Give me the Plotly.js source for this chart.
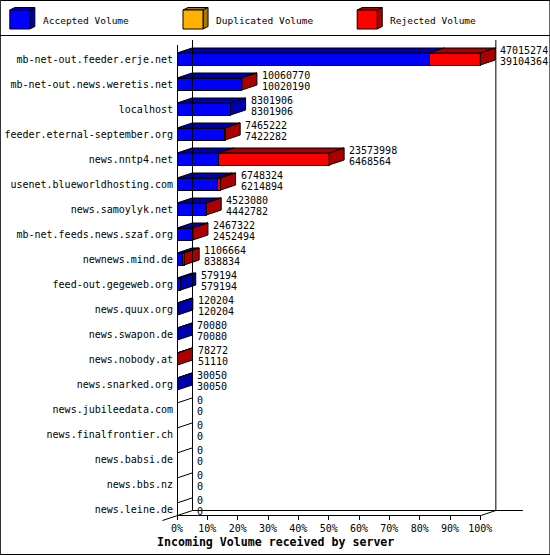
<!DOCTYPE html>
<html>
<head>
<meta charset="utf-8">
<script src="https://cdn.plot.ly/plotly-3.0.1.min.js"></script>
<style>html,body{margin:0;padding:0;background:#fff}</style>
</head>
<body>
<div id="plot" style="width:550px;height:555px"></div>
<script>
// incoming volume per server (bytes)
const servers = [
  'mb-net-out.feeder.erje.net', 'mb-net-out.news.weretis.net', 'localhost',
  'feeder.eternal-september.org', 'news.nntp4.net', 'usenet.blueworldhosting.com',
  'news.samoylyk.net', 'mb-net.feeds.news.szaf.org', 'newnews.mind.de',
  'feed-out.gegeweb.org', 'news.quux.org', 'news.swapon.de', 'news.nobody.at',
  'news.snarked.org', 'news.jubileedata.com', 'news.finalfrontier.ch',
  'news.babsi.de', 'news.bbs.nz', 'news.leine.de'
]
const offered = [47015274, 10060770, 8301906, 7465222, 23573998, 6748324, 4523080,
  2467322, 1106664, 579194, 120204, 70080, 78272, 30050, 0, 0, 0, 0, 0]
const accepted = [39104364, 10020190, 8301906, 7422282, 6468564, 6214894, 4442782,
  2452494, 838834, 579194, 120204, 70080, 51110, 30050, 0, 0, 0, 0, 0]
const duplicated = [0, 0, 0, 0, 0, 0, 0, 0, 0, 0, 0, 0, 0, 0, 0, 0, 0, 0, 0]
const seriesNames = ['Accepted Volume', 'Duplicated Volume', 'Rejected Volume']
const pctTicks = [0, 10, 20, 30, 40, 50, 60, 70, 80, 90, 100]

const fronts = ['#0000ff', '#ffb000', '#ff0000']
const darks = ['#0000aa', '#aa7800', '#aa0000']
const FONT = 'DejaVu Sans Mono'

const rejected = offered.map((o, i) => o - accepted[i] - duplicated[i])
const maxVol = Math.max(...offered)
const toPct = v => v / maxVol * 100
const series = [accepted, duplicated, rejected].map(a => a.map(toPct))
const idx = servers.map((_, i) => i)

// layout in pixels
const WIDTH = 550, HEIGHT = 555
const L = 177, T = 40, B = 40, RM = 9.4
const W = WIDTH - L - RM, H = HEIGHT - T - B
const xMax = 120
const k = W / xMax            // px per percent
const ROW = 25                // px per row
const yTop = -(59 - T) / ROW
const yBot = yTop + H / ROW
const DXpx = 15, DYpx = 5
const DX = DXpx / k, DY = DYpx / ROW
const HALF = 6 / ROW

const px2x = p => (p - L) / W
const py2y = p => (HEIGHT - B - p) / H
const xpx = v => L + v * k

const shapes = []
const annotations = []

// 3d top and side faces of each bar
idx.forEach(i => {
  const yt = i - HALF, yb = i + HALF
  let x0 = 0, last = -1
  series.forEach((s, j) => {
    const x1 = x0 + s[i]
    if (s[i] > 0) {
      shapes.push({
        type: 'path', xref: 'x', yref: 'y', layer: 'above',
        path: `M${x0},${yt} L${x0 + DX},${yt - DY} L${x1 + DX},${yt - DY} L${x1},${yt} Z`,
        fillcolor: darks[j], line: {color: '#000', width: 1}
      })
      last = j
    }
    x0 = x1
  })
  if (last >= 0) {
    shapes.push({
      type: 'path', xref: 'x', yref: 'y', layer: 'above',
      path: `M${x0},${yt} L${x0 + DX},${yt - DY} L${x0 + DX},${yb - DY} L${x0},${yb} Z`,
      fillcolor: darks[last], line: {color: '#000', width: 1}
    })
  } else {
    shapes.push({
      type: 'line', xref: 'x', yref: 'y', layer: 'above',
      x0: 0, y0: yt, x1: DX, y1: yt - DY, line: {color: '#000', width: 1}
    })
  }
  // value labels: offered over accepted
  const xe = toPct(offered[i])
  ;[[offered[i], 9], [accepted[i], -2]].forEach(([v, sh]) => {
    annotations.push({
      xref: 'x', yref: 'y', x: xe, y: i, xshift: 18, yshift: sh,
      xanchor: 'left', yanchor: 'middle', showarrow: false,
      text: String(v), font: {family: FONT, size: 10, color: '#000'}
    })
  })
})

// box frame
const line = (ax, ay, bx, by) => shapes.push({
  type: 'line', xref: 'paper', yref: 'paper', layer: 'above',
  x0: px2x(ax), y0: py2y(ay), x1: px2x(bx), y1: py2y(by),
  line: {color: '#000', width: 1}
})
const fx0 = xpx(0) + 0.5, fx100 = xpx(100) + 0.5
const fBot = T + H + 0.5, bBot = fBot - DYpx
line(fx0, T + DYpx, fx0, fBot)
line(fx0 + DXpx, T, fx0 + DXpx, bBot)
line(fx100 + DXpx, T, fx100 + DXpx, bBot)
line(fx0, fBot, fx100, fBot)
line(fx0 + DXpx, bBot, fx100 + DXpx + 27, bBot)
line(fx0 - DXpx, fBot + DYpx, fx0 + DXpx, bBot)
line(fx100, fBot, fx100 + DXpx, bBot)

// outer border and legend separator
shapes.push({
  type: 'rect', xref: 'paper', yref: 'paper', layer: 'above',
  x0: px2x(0.5), y0: py2y(0.5), x1: px2x(WIDTH - 0.5), y1: py2y(HEIGHT - 0.5),
  line: {color: '#000', width: 1}
})
line(0, 35.5, WIDTH, 35.5)

// legend cubes
const legX = [10, 183, 357]
seriesNames.forEach((name, j) => {
  const x = legX[j]
  const rect = (path, c) => shapes.push({
    type: 'path', xref: 'paper', yref: 'paper', layer: 'above',
    path, fillcolor: c, line: {color: '#000', width: 1}
  })
  const P = (a, b) => `${px2x(a)},${py2y(b)}`
  rect(`M${P(x, 10)} L${P(x + 5, 7.5)} L${P(x + 25, 7.5)} L${P(x + 20, 10)} Z`, darks[j])
  rect(`M${P(x + 20, 10)} L${P(x + 25, 7.5)} L${P(x + 25, 26.5)} L${P(x + 20, 29)} Z`, darks[j])
  rect(`M${P(x, 10)} L${P(x + 20, 10)} L${P(x + 20, 29)} L${P(x, 29)} Z`, fronts[j])
  annotations.push({
    xref: 'paper', yref: 'paper', x: px2x(x + 31), y: py2y(20),
    xanchor: 'left', yanchor: 'middle', showarrow: false,
    text: name, font: {family: FONT, size: 9.5, color: '#000'}
  })
})

// axis title
annotations.push({
  xref: 'paper', yref: 'paper', x: px2x(155), y: py2y(542),
  xanchor: 'left', yanchor: 'middle', showarrow: false,
  text: '<b>Incoming Volume received by server</b>',
  font: {family: FONT, size: 11.6, color: '#000'}
})

const traces = series.map((s, j) => ({
  type: 'bar', orientation: 'h', name: seriesNames[j],
  y: idx, x: s, width: 0.48,
  marker: {color: fronts[j], line: {color: '#000', width: 1}},
  hoverinfo: 'skip', showlegend: false
}))

Plotly.newPlot('plot', traces, {
  width: WIDTH, height: HEIGHT,
  margin: {l: L, r: RM, t: T, b: B, pad: 0},
  paper_bgcolor: '#fff', plot_bgcolor: '#fff',
  font: {family: FONT, size: 10, color: '#000'},
  barmode: 'stack',
  showlegend: false,
  xaxis: {
    range: [0, xMax], tickvals: pctTicks, ticktext: pctTicks.map(v => v + '%'),
    ticks: 'outside', ticklen: 4, tickcolor: '#000', tickwidth: 1,
    showgrid: false, zeroline: false, showline: false, fixedrange: true,
    tickfont: {family: FONT, size: 10, color: '#000'}
  },
  yaxis: {
    range: [yBot, yTop], tickvals: idx, ticktext: servers,
    ticks: '', ticklabelstandoff: 3,
    showgrid: false, zeroline: false, showline: false, fixedrange: true,
    tickfont: {family: FONT, size: 10, color: '#000'}
  },
  shapes, annotations
}, {displayModeBar: false, staticPlot: true})
</script>
</body>
</html>
